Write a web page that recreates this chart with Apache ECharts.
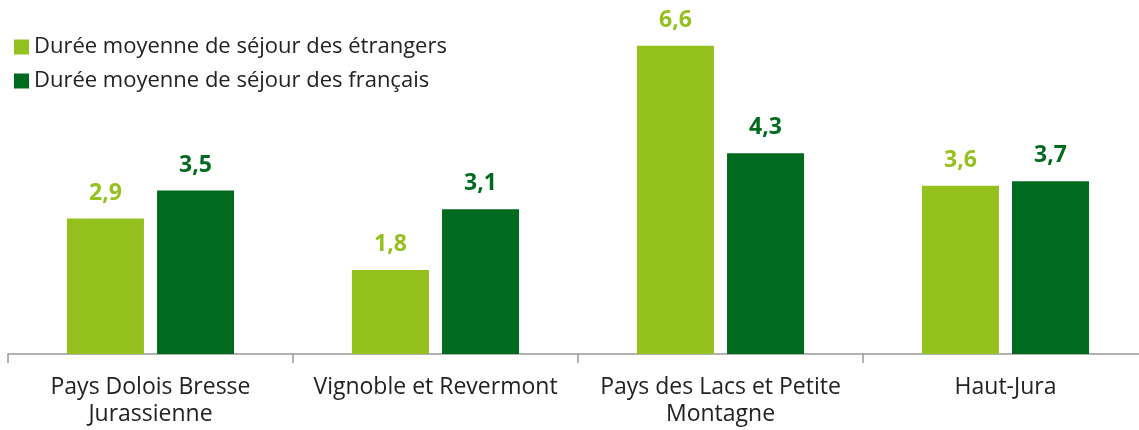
<!DOCTYPE html>
<html>
<head>
<meta charset="utf-8">
<script src="https://cdn.jsdelivr.net/npm/echarts@6/dist/echarts.min.js"></script>
<style>
  html, body { margin: 0; padding: 0; background: #fff; overflow: hidden; }
  #chart { width: 1148px; height: 430px; }
</style>
</head>
<body>
<div id="chart"></div>
<script>
var categories = ['Pays Dolois Bresse\nJurassienne', 'Vignoble et Revermont', 'Pays des Lacs et Petite\nMontagne', 'Haut-Jura'];
var etrangers = [2.9, 1.8, 6.6, 3.6];
var francais = [3.5, 3.1, 4.3, 3.7];
var seriesNames = ['Durée moyenne de séjour des étrangers', 'Durée moyenne de séjour des français'];
var colors = ['#95c11f', '#006a1e'];

// the axis in the original runs slightly past the right edge, so the chart div is a bit wider than the window
var myChart = echarts.init(document.getElementById('chart'));

function labelFmt(p) {
    return p.value.toFixed(1).replace('.', ',');
}

var option = {
    animation: false,
    textStyle: { fontFamily: 'Open Sans' },
    legend: {
        orient: 'vertical',
        left: 9,
        top: 31,
        itemWidth: 15,
        itemHeight: 15,
        itemGap: 12,
        icon: 'rect',
        textStyle: { fontSize: 22, color: '#222', fontFamily: 'Open Sans' },
        data: seriesNames
    },
    grid: {
        left: 8,
        right: 0,
        top: 27,
        bottom: 76,
        containLabel: false
    },
    xAxis: {
        type: 'category',
        data: categories,
        axisLine: { lineStyle: { color: '#999', width: 1.5 } },
        axisTick: { show: true, length: 9, lineStyle: { color: '#999', width: 1.5 } },
        axisLabel: {
            fontSize: 23,
            color: '#222',
            lineHeight: 27,
            margin: 20,
            interval: 0
        }
    },
    yAxis: {
        type: 'value',
        min: 0,
        max: 7,
        show: false,
        splitLine: { show: false }
    },
    series: []
};

option.series.push({
    name: seriesNames[0],
    type: 'bar',
    barWidth: 77,
    barGap: '17%',
    itemStyle: { color: colors[0] },
    label: {
        show: true,
        position: 'top',
        distance: 14,
        fontSize: 23,
        fontWeight: 'bold',
        color: colors[0],
        formatter: labelFmt
    },
    data: etrangers
});
option.series.push({
    name: seriesNames[1],
    type: 'bar',
    barWidth: 77,
    barGap: '17%',
    itemStyle: { color: colors[1] },
    label: {
        show: true,
        position: 'top',
        distance: 14,
        fontSize: 23,
        fontWeight: 'bold',
        color: colors[1],
        formatter: labelFmt
    },
    data: francais
});

myChart.setOption(option);
</script>
</body>
</html>
